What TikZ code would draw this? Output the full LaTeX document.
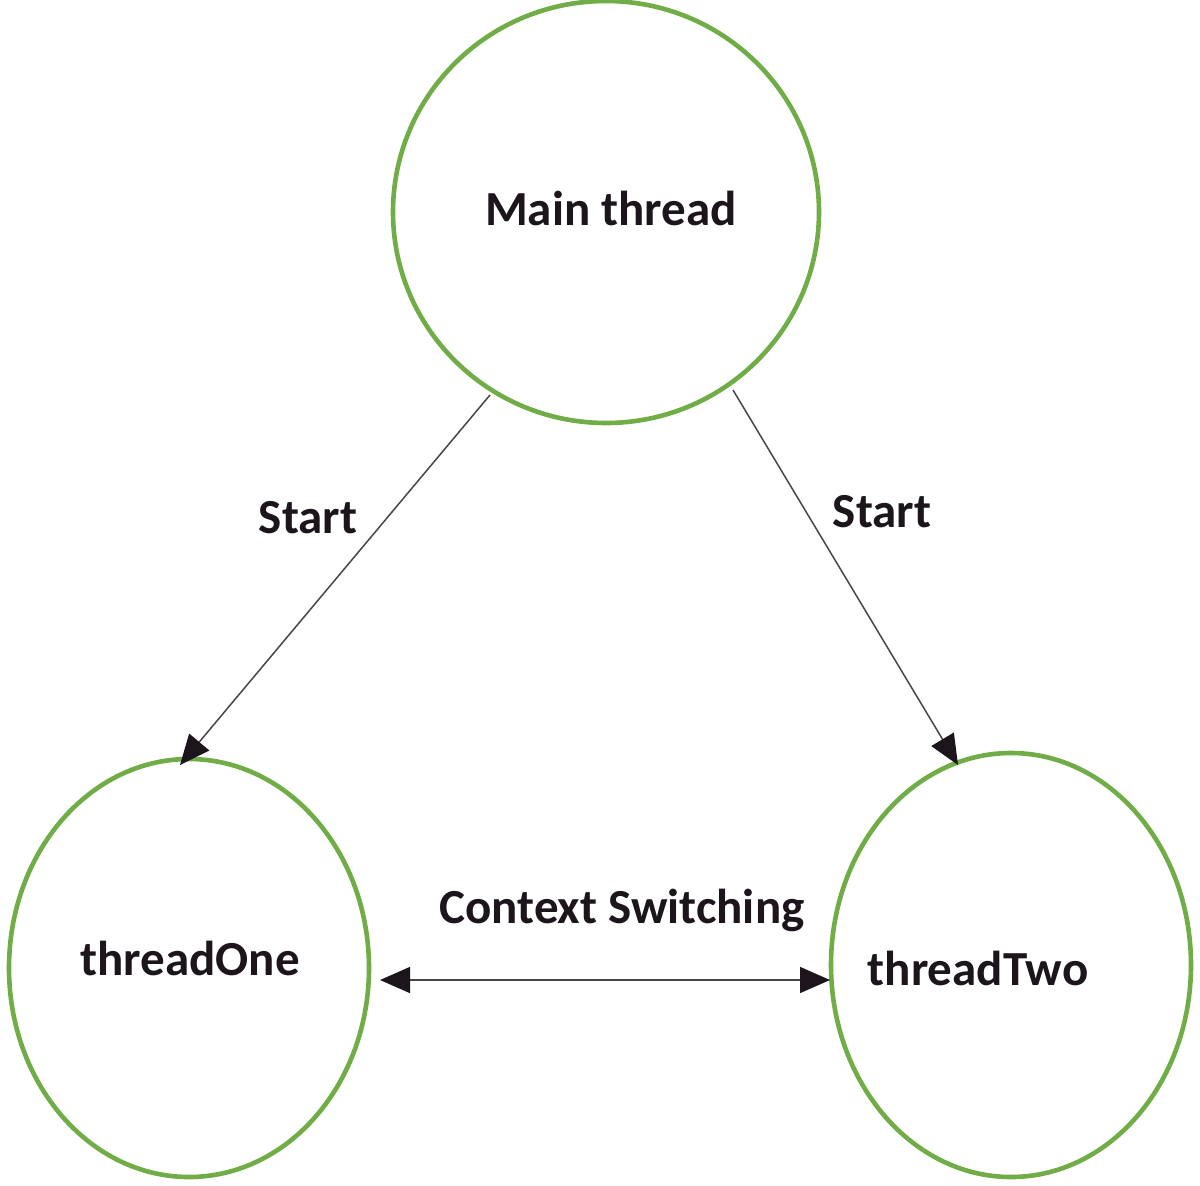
\documentclass[tikz,border=0pt]{standalone}
\usepackage{fontspec}
\setmainfont{Carlito}
\usetikzlibrary{arrows.meta}
\definecolor{og}{RGB}{112,173,71}
\definecolor{ink}{RGB}{28,22,28}
\tikzset{
  ring/.style={draw=og, line width=4.6pt},
  lbl/.style={font=\bfseries\fontsize{49}{56}\selectfont, text=ink, inner sep=0pt},
  tip/.tip={Triangle[length=30pt,width=26pt,color=ink]},
  conn/.style={draw=ink!80, line width=1.5pt, -tip},
}
\begin{document}
\begin{tikzpicture}[x=1pt,y=-1pt]
\useasboundingbox (0,0) rectangle (1200,1186);
\fill[white] (0,0) rectangle (1200,1186);
\draw[ring] (606,212) ellipse[x radius=213, y radius=211];
\draw[ring] (189,968) ellipse[x radius=180, y radius=209];
\draw[ring] (1011,965) ellipse[x radius=180, y radius=212];
\node[lbl] (main) at (611,208) {Main thread};
\node[lbl] (one) at (190,958) {threadOne};
\node[lbl] (two) at (978,968) {threadTwo};
\coordinate (a1) at (490,395);
\coordinate (a1e) at (180,765);
\coordinate (a2) at (733,390);
\coordinate (a2e) at (958,765);
\coordinate (b1) at (380,980);
\coordinate (b2) at (830,980);
\draw[conn] (a1) -- (a1e);
\draw[conn] (a2) -- (a2e);
\draw[conn, tip-tip] (b1) -- (b2);
\node[lbl] (s1) at (308,518) {Start};
\node[lbl] (s2) at (882,512) {Start};
\node[lbl] (cs) at (622,910) {Context Switching};
\end{tikzpicture}
\end{document}
